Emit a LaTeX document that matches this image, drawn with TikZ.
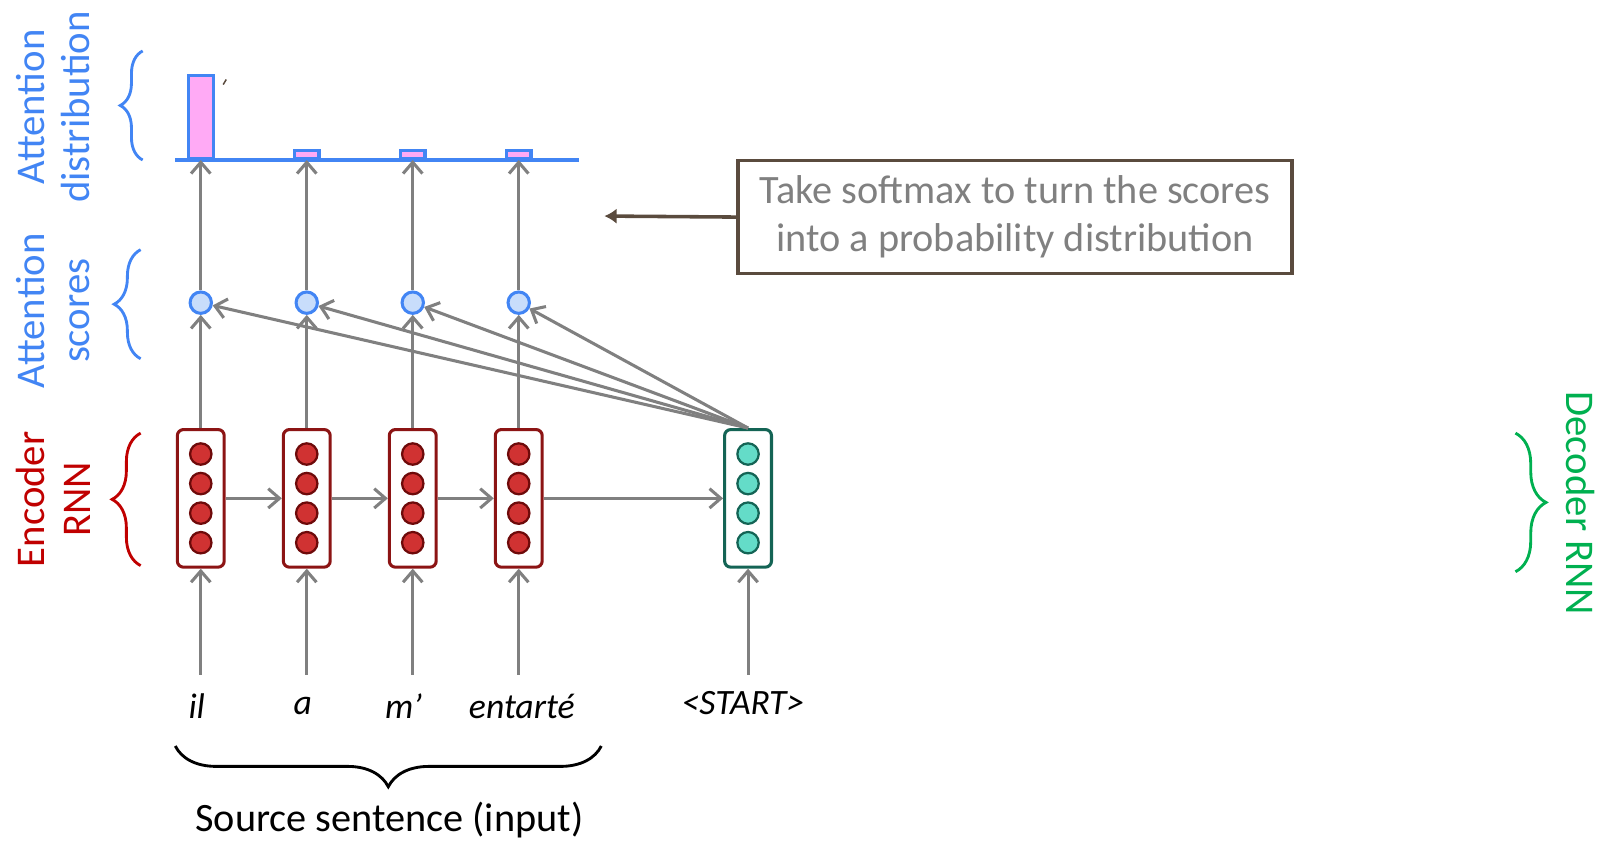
\documentclass[tikz,border=0pt]{standalone}
\usepackage{fontspec}
\setmainfont{Carlito}
\usetikzlibrary{arrows.meta,decorations.pathreplacing}
\definecolor{attblue}{RGB}{66,133,244}
\definecolor{barpink}{RGB}{255,170,245}
\definecolor{scorefill}{RGB}{200,221,251}
\definecolor{arrgray}{RGB}{128,128,128}
\definecolor{encline}{RGB}{140,20,20}
\definecolor{encfill}{RGB}{208,50,50}
\definecolor{encdot}{RGB}{110,10,10}
\definecolor{decline}{RGB}{20,100,85}
\definecolor{decfill}{RGB}{100,220,200}
\definecolor{labred}{RGB}{192,0,0}
\definecolor{labgreen}{RGB}{0,176,80}
\definecolor{notebrown}{RGB}{90,75,62}
\definecolor{notetext}{RGB}{128,128,128}
\begin{document}
\begin{tikzpicture}[x=1pt,y=-1pt,
  arr/.style={draw=arrgray,line width=3pt,-{Straight Barb[length=11pt,width=19pt,line width=3pt]}},
  rnnbox/.style={rectangle,rounded corners=6pt,line width=3pt,fill=white,minimum width=46pt,minimum height=135pt,inner sep=0pt},
  encbox/.style={rnnbox,draw=encline},
  decbox/.style={rnnbox,draw=decline},
  encdotstyle/.style={circle,draw=encdot,fill=encfill,line width=2.2pt,minimum size=21pt,inner sep=0pt},
  decdotstyle/.style={circle,draw=decline,fill=decfill,line width=2.2pt,minimum size=21pt,inner sep=0pt},
  score/.style={circle,draw=attblue,fill=scorefill,line width=3pt,minimum size=21pt,inner sep=0pt},
  bar/.style={rectangle,draw=attblue,fill=barpink,line width=3pt,inner sep=0pt,anchor=south},
  sidelab/.style={font=\fontsize{40}{45}\selectfont,align=center,inner sep=0pt},
  word/.style={font=\fontsize{35}{42}\selectfont\itshape,inner sep=0pt},
  bracestyle/.style={line width=2.8pt,decorate,decoration={brace,amplitude=#1}}
]
\useasboundingbox (0,0) rectangle (1568,826);

% side labels and their braces
\node[sidelab,text=attblue,rotate=90] (labdist) at (52,105) {Attention\\distribution};
\node[sidelab,text=attblue,rotate=90] (labscore) at (52,305) {Attention\\scores};
\node[sidelab,text=labred,rotate=90] (labenc) at (52,490) {Encoder\\RNN};
\node[sidelab,text=labgreen,rotate=-90] (labdec) at (1551,494) {Decoder RNN};
\draw[bracestyle=22pt,attblue] (140,157) -- (140,50);
\draw[bracestyle=26pt,attblue] (138,352) -- (138,245);
\draw[bracestyle=28pt,labred] (138,555) -- (138,425);
\draw[bracestyle=30pt,labgreen] (1487,425) -- (1487,561);

% attention distribution bars on a baseline
\coordinate (baseL) at (172,157);
\coordinate (baseR) at (568,157);
\node[bar,minimum width=25pt,minimum height=81pt] (b1) at (197,157) {};
\node[bar,minimum width=24pt,minimum height=8pt] (b2) at (301,157) {};
\node[bar,minimum width=24pt,minimum height=8pt] (b3) at (405,157) {};
\node[bar,minimum width=24pt,minimum height=8pt] (b4) at (509,157) {};
\draw[attblue,line width=3pt] (baseL) -- (baseR);
\draw[notebrown,line width=1.5pt] (219,83) -- (222,78);

% attention scores
\foreach \i/\x in {1/197,2/301,3/405,4/509}{
  \node[score] (s\i) at (\x,297) {};
}

% encoder hidden states
\foreach \i/\x in {1/197,2/301,3/405,4/509}{
  \node[encbox] (e\i) at (\x,489) {};
  \foreach \j/\dy in {1/-43.5,2/-14.5,3/14.5,4/43.5}{
    \node[encdotstyle] (e\i d\j) at (\x,489+\dy) {};
  }
}
% decoder hidden state
\node[decbox] (dec) at (734,489) {};
\foreach \j/\dy in {1/-43.5,2/-14.5,3/14.5,4/43.5}{
  \node[decdotstyle] (decd\j) at (734,489+\dy) {};
}

% input words
\node[word] (w1) at (193,693) {il};
\node[word] (w2) at (297,693) {a};
\node[word] (w3) at (396,693) {m’};
\node[word] (w4) at (512,693) {entarté};
\node[word] (w5) at (729,690) {<START>};
\foreach \i/\x in {1/197,2/301,3/405,4/509}{
  \coordinate (in\i) at (\x,662);
  \draw[arr] (in\i) -- (e\i.south);
  \draw[arr] (e\i.north) -- (s\i);
  \draw[arr] (s\i) -- (b\i.south);
}
\coordinate (in5) at (734,662);
\draw[arr] (in5) -- (dec.south);

% recurrence
\draw[arr] (e1.east) -- (e2.west);
\draw[arr] (e2.east) -- (e3.west);
\draw[arr] (e3.east) -- (e4.west);
\draw[arr] (e4.east) -- (dec.west);

% decoder state scored against each encoder state
\foreach \i in {1,2,3,4}{
  \draw[arr] (dec.north) -- (s\i);
}

% source sentence brace
\draw[bracestyle=40pt,black] (590,732) -- (172,732);
\node[font=\fontsize{39.5}{46}\selectfont,inner sep=0pt] (src) at (382,805) {Source sentence (input)};

% softmax note
\node[draw=notebrown,line width=3.5pt,minimum width=544pt,minimum height=111pt,align=center,
      text=notetext,font=\fontsize{39.5}{47}\selectfont] (note) at (996,213)
      {Take softmax to turn the scores\\into a probability distribution};
\coordinate (notetip) at (593,212);
\draw[notebrown,line width=3.5pt,-{Latex[length=12pt,width=15pt]}] (note.west) -- (notetip);
\end{tikzpicture}
\end{document}
